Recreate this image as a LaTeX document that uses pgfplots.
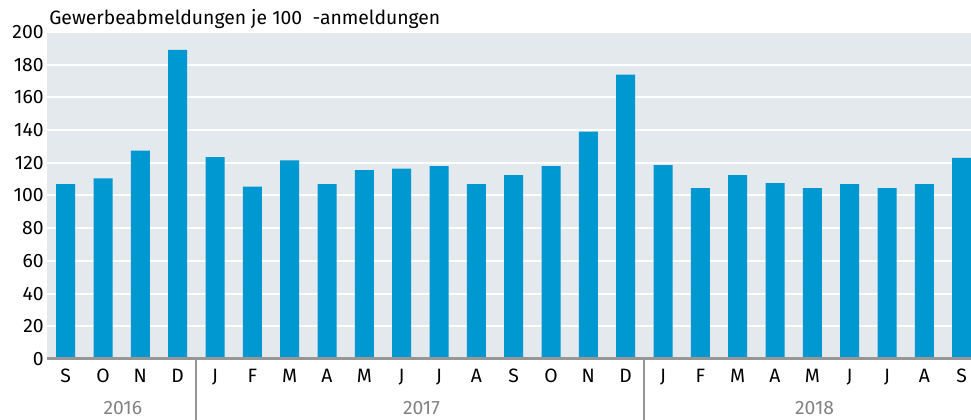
\documentclass[border=0pt]{standalone}
\usepackage{fontspec}
\setmainfont{Fira Sans}
\usepackage{pgfplots}
\pgfplotsset{compat=1.18}
\usetikzlibrary{calc}
\definecolor{barblue}{RGB}{0,152,208}
\definecolor{plotbg}{RGB}{228,233,237}
\definecolor{axisgray}{RGB}{150,150,150}
\definecolor{yeargray}{RGB}{130,130,130}

\begin{document}
\begin{tikzpicture}
\begin{axis}[
  scale only axis,
  width=693pt, height=245.25pt,
  xmin=-0.5, xmax=24.25,
  ymin=0, ymax=200,
  ytick={0,20,...,200},
  xtick={0,...,24},
  xticklabels={S,O,N,D,J,F,M,A,M,J,J,A,S,O,N,D,J,F,M,A,M,J,J,A,S},
  major tick length=0pt,
  axis line style={draw=none},
  axis background/.style={fill=plotbg},
  ymajorgrids, grid style={white, line width=1.5pt},
  tick label style={font=\fontsize{14.5}{16}\selectfont},
  /pgf/number format/assume math mode=true,
  yticklabel style={xshift=1pt},
  xticklabel style={yshift=-4pt},
]
\addplot[ybar, bar width=14.25pt, fill=barblue, draw=none] coordinates {
  (0,107) (1,110.5) (2,127.5) (3,189)
  (4,123.5) (5,105.5) (6,121.5) (7,107) (8,115.5) (9,116.5)
  (10,118) (11,107) (12,112.5) (13,118) (14,139) (15,174)
  (16,118.5) (17,104.5) (18,112.5) (19,107.5) (20,104.5)
  (21,107) (22,104.5) (23,107) (24,123)
};
\coordinate (bl) at (rel axis cs:0,0);
\coordinate (br) at (rel axis cs:1,0);
\coordinate (tl) at (rel axis cs:0,1);
\coordinate (tr) at (rel axis cs:1,1);
\coordinate (s1) at (axis cs:3.5,0);
\coordinate (s2) at (axis cs:15.5,0);
\coordinate (y16) at (axis cs:1.53,0);
\coordinate (y17) at (axis cs:9.53,0);
\coordinate (y18) at (axis cs:20.06,0);
\end{axis}
\draw[axisgray, line width=2.25pt] (bl) -- (br);
\draw[axisgray, line width=1.5pt] (s1) -- ++(0,-45.75pt);
\draw[axisgray, line width=1.5pt] (s2) -- ++(0,-45.75pt);
\foreach \c/\t in {y16/2016, y17/2017, y18/2018}
  \node[yeargray, font=\fontsize{14.5}{16}\selectfont] at ($(\c)+(0,-37pt)$) {\t};
\node[anchor=base west, inner sep=0pt, font=\fontsize{14.5}{16}\selectfont]
  at ($(tl)+(1.5pt,5.25pt)$) {Gewerbeabmeldungen je 100\ \ -anmeldungen};
\pgfresetboundingbox
\useasboundingbox ($(bl)+(-35.25pt,-45.75pt)$) rectangle ($(tr)+(0,24pt)$);
\end{tikzpicture}
\end{document}
